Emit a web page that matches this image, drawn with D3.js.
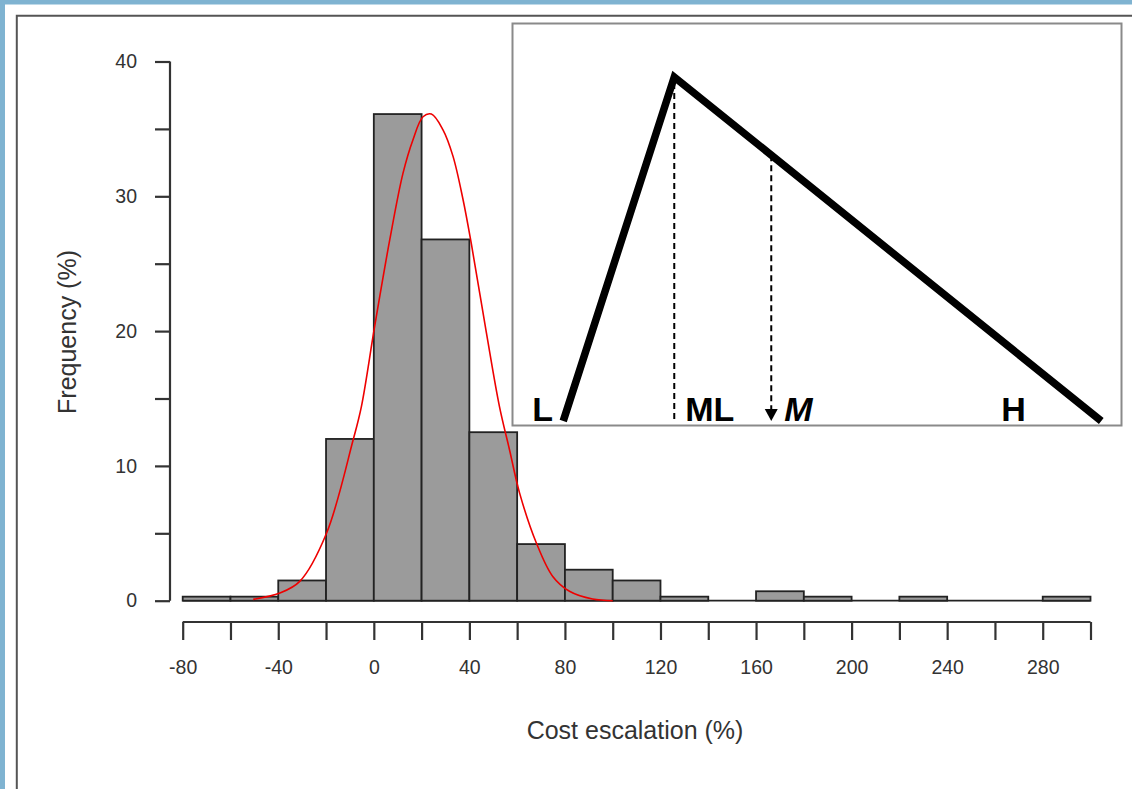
<!DOCTYPE html>
<html>
<head>
<meta charset="utf-8">
<script src="https://cdnjs.cloudflare.com/ajax/libs/d3/7.8.5/d3.min.js"></script>
<style>
  html, body { margin: 0; padding: 0; background: #fff; }
  svg { display: block; font-family: "Liberation Sans", Arial, sans-serif; }
</style>
</head>
<body>
<svg id="chart"></svg>
<script>
var viewWidth = 1132;
var viewHeight = 789;

// histogram bins (left edge, width 20) and frequencies (%)
var binStarts = [-80, -60, -40, -20, 0, 20, 40, 60, 80, 100, 120, 140, 160, 180, 200, 220, 240, 260, 280];
var binWidth = 20;
var frequency = [0.3, 0.3, 1.5, 12.0, 36.1, 26.8, 12.5, 4.2, 2.3, 1.5, 0.3, 0, 0.7, 0.3, 0, 0.3, 0, 0, 0.3];

// fitted curve
var curveX = [-50.5, -39.3, -31, -19.8, -8.7, -5.2, 0.4, 6.7, 12.2, 16.4, 20.6, 24.1, 28.9, 33.1, 37.3, 40.8, 47.1, 52.6, 56.8, 61.0, 68.0, 74.9, 81.9, 91.6, 100];
var curveY = [0.1, 0.57, 1.43, 5.0, 11.9, 14.4, 20.4, 26.8, 31.7, 34.2, 35.9, 36.1, 34.95, 33.0, 29.8, 26.5, 19.9, 14.4, 11.2, 8.0, 4.3, 1.8, 0.7, 0.12, 0];

var yTicks = [0, 5, 10, 15, 20, 25, 30, 35, 40];
var yLabels = [0, 10, 20, 30, 40];
var xTicks = d3.range(-80, 301, 20);
var xLabels = d3.range(-80, 281, 40);

// inset triangle diagram (arbitrary units 0..100)
var triNames = ["L", "ML", "M", "H"];
var triValues = [8.4, 26.6, 42.5, 96.6];

var svg = d3.select("#chart")
    .attr("width", viewWidth)
    .attr("height", viewHeight);

// page frame
svg.append("rect").attr("x", 0).attr("y", 0).attr("width", viewWidth).attr("height", 4.5).attr("fill", "#7fb3d1");
svg.append("rect").attr("x", 0).attr("y", 0).attr("width", 5).attr("height", viewHeight).attr("fill", "#7fb3d1");
svg.append("path")
    .attr("d", "M16.8," + viewHeight + "V15.8H" + viewWidth)
    .attr("fill", "none")
    .attr("stroke", "#555")
    .attr("stroke-width", 2);

var x = d3.scaleLinear().domain([-80, 300]).range([182.7, 1090.5]);
var y = d3.scaleLinear().domain([0, 40]).range([600.7, 61.5]);

// baseline under all bins (empty bins show as a line)
svg.append("line")
    .attr("x1", x(binStarts[0]))
    .attr("x2", x(binStarts[binStarts.length - 1] + binWidth))
    .attr("y1", y(0)).attr("y2", y(0))
    .attr("stroke", "#222")
    .attr("stroke-width", 1.8);

// bars
svg.selectAll(".bar")
    .data(frequency)
  .enter().append("rect")
    .attr("class", "bar")
    .attr("x", function(d, i) { return x(binStarts[i]); })
    .attr("width", function(d, i) { return x(binStarts[i] + binWidth) - x(binStarts[i]); })
    .attr("y", function(d) { return y(d); })
    .attr("height", function(d) { return y(0) - y(d); })
    .style("fill", "#9b9b9b")
    .style("stroke", "#222")
    .style("stroke-width", 1.8);

// red curve
var curvePts = curveX.map(function(v, i) { return [v, curveY[i]]; });
svg.append("path")
    .datum(curvePts)
    .attr("d", d3.line()
      .x(function(d) { return x(d[0]); })
      .y(function(d) { return y(d[1]); })
      .curve(d3.curveCatmullRom))
    .attr("fill", "none")
    .attr("stroke", "#ee0000")
    .attr("stroke-width", 1.6);

// y axis
var yAxis = d3.axisLeft(y).tickValues(yTicks).tickSize(15).tickFormat(function(d) {
  return yLabels.indexOf(d) >= 0 ? d : "";
}).tickPadding(18);
var gy = svg.append("g")
    .attr("transform", "translate(170,0)")
    .call(yAxis);

// x axis
var xAxis = d3.axisBottom(x).tickValues(xTicks).tickSize(18).tickFormat(function(d) {
  return xLabels.indexOf(d) >= 0 ? d : "";
}).tickPadding(20);
var gx = svg.append("g")
    .attr("transform", "translate(0,622)")
    .call(xAxis);

[gx, gy].forEach(function(g) {
  g.select(".domain").attr("stroke", "#333").attr("stroke-width", 2.2);
  g.selectAll(".tick line").attr("stroke", "#333").attr("stroke-width", 2.2);
  g.selectAll(".tick text")
    .attr("fill", "#333")
    .style("font-family", "Liberation Sans, Arial, sans-serif")
    .style("font-size", "19.5px");
});
gx.select(".domain").attr("d", "M" + x(-80) + ",0H" + x(300));
gy.select(".domain").attr("d", "M0," + y(0) + "V" + y(40));

svg.append("text")
    .attr("x", 635)
    .attr("y", 739)
    .attr("text-anchor", "middle")
    .attr("fill", "#333")
    .style("font-size", "25px")
    .text("Cost escalation (%)");

svg.append("text")
    .attr("transform", "translate(76,332) rotate(-90)")
    .attr("text-anchor", "middle")
    .attr("fill", "#333")
    .style("font-size", "25px")
    .text("Frequency (%)");

// inset
var inset = svg.append("g").attr("class", "inset");
inset.append("rect")
    .attr("x", 512.5).attr("y", 23.5)
    .attr("width", 609).attr("height", 402)
    .attr("fill", "#fff")
    .attr("stroke", "#8a8a8a")
    .attr("stroke-width", 2);

var ix = d3.scaleLinear().domain([0, 100]).range([512, 1122]);
var iy = d3.scaleLinear().domain([0, 1]).range([421, 77]);

var vL = triValues[0], vML = triValues[1], vM = triValues[2], vH = triValues[3];
var mHeight = (vH - vM) / (vH - vML);

// dashed guide lines
inset.append("line")
    .attr("x1", ix(vML)).attr("x2", ix(vML))
    .attr("y1", iy(1) + 6).attr("y2", iy(0))
    .attr("stroke", "#000").attr("stroke-width", 2)
    .attr("stroke-dasharray", "6,4");
inset.append("line")
    .attr("x1", ix(vM)).attr("x2", ix(vM))
    .attr("y1", iy(mHeight)).attr("y2", iy(0) - 11)
    .attr("stroke", "#000").attr("stroke-width", 2)
    .attr("stroke-dasharray", "6,4");
inset.append("path")
    .attr("d", "M" + (ix(vM) - 6.5) + "," + (iy(0) - 12) + "L" + (ix(vM) + 6.5) + "," + (iy(0) - 12) + "L" + ix(vM) + "," + iy(0) + "Z")
    .attr("fill", "#000");

// triangle
inset.append("path")
    .datum([[vL, 0], [vML, 1], [vH, 0]])
    .attr("d", d3.line().x(function(d) { return ix(d[0]); }).y(function(d) { return iy(d[1]); }))
    .attr("fill", "none")
    .attr("stroke", "#000")
    .attr("stroke-width", 7.5)
    .attr("stroke-linejoin", "miter");

var labelDx = [-31, 11, 13, -100];
inset.selectAll(".tlabel")
    .data(triNames)
  .enter().append("text")
    .attr("class", "tlabel")
    .attr("x", function(d, i) { return ix(triValues[i]) + labelDx[i]; })
    .attr("y", 421)
    .attr("fill", "#000")
    .style("font-size", "34px")
    .style("font-weight", "bold")
    .style("font-style", function(d) { return d === "M" ? "italic" : "normal"; })
    .text(function(d) { return d; });
</script>
</body>
</html>
